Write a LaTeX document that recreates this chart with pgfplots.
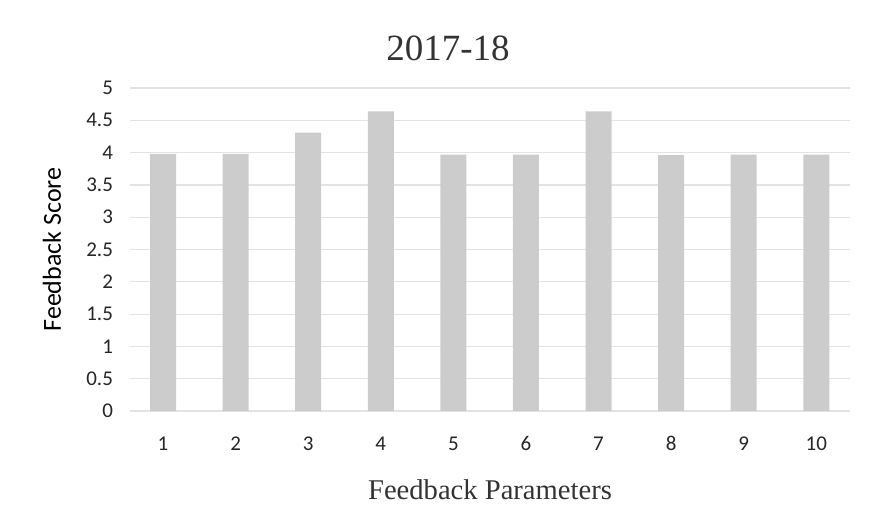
\documentclass[border=0pt]{standalone}
\usepackage{fontspec}
\setmainfont{Liberation Serif}
\newfontfamily\carl{Carlito}
\usepackage{pgfplots}
\pgfplotsset{compat=1.18}
\begin{document}
\begin{tikzpicture}
\begin{axis}[
  at={(0,0)}, anchor=south west,
  scale only axis, width=360pt, height=161.5pt,
  xmin=0.545, xmax=10.465, ymin=0, ymax=5,
  ytick={0,0.5,...,5},
  xtick={1,...,10},
  axis line style={draw=none},
  major tick length=0pt,
  ymajorgrids, grid style={gray!22, line width=0.6pt},
  /pgf/number format/assume math mode=true,
  ticklabel style={font=\carl\fontsize{10.5}{12}\selectfont, text=black!85},
  yticklabel style={xshift=-5pt},
  xticklabel style={yshift=-9pt, text height=7pt, text depth=0pt},
  ylabel={\carl\fontsize{13}{15}\selectfont Feedback Score},
  ylabel style={at={(axis description cs:-0.086,0.5)}, anchor=south, rotate=0},
  xlabel={\fontsize{14.3}{17}\selectfont Feedback Parameters},
  xlabel style={yshift=-8pt, text=black!80},
  title={\fontsize{18.5}{21}\selectfont 2017-18},
  title style={yshift=4pt, xshift=-21pt, text=black!80},
]
\addplot[ybar, bar width=13pt, fill=black!20, draw=none] coordinates {
 (1,3.98) (2,3.98) (3,4.31) (4,4.64) (5,3.97) (6,3.97) (7,4.64) (8,3.96) (9,3.97) (10,3.97)
};
\end{axis}
\path[use as bounding box] (-65pt,-51.5pt) rectangle (370pt,205.5pt);
\end{tikzpicture}
\end{document}
